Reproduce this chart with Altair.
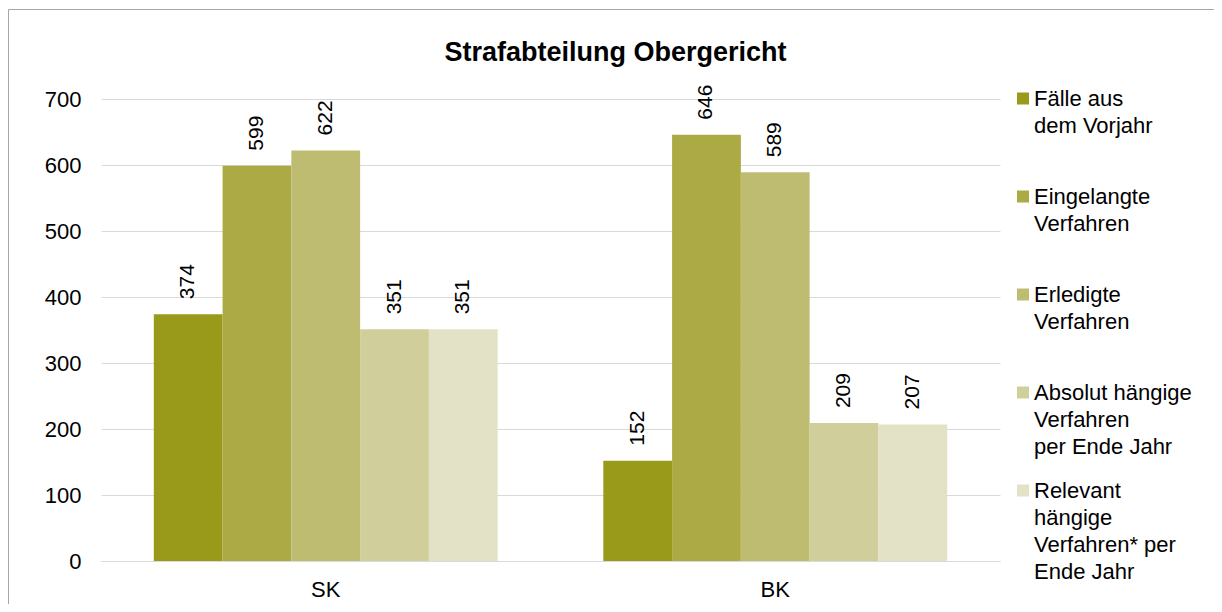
import altair as alt
import pandas as pd

groups = ["SK", "BK"]
series = [
    "Fälle aus|dem Vorjahr",
    "Eingelangte|Verfahren",
    "Erledigte|Verfahren",
    "Absolut hängige|Verfahren|per Ende Jahr",
    "Relevant|hängige|Verfahren* per|Ende Jahr",
]
sk_values = [374, 599, 622, 351, 351]
bk_values = [152, 646, 589, 209, 207]
colors = ["#999A1A", "#ABAA45", "#BEBC71", "#D0CE9A", "#E3E2C6"]

rows = []
for g, vals in zip(groups, [sk_values, bk_values]):
    for s, v in zip(series, vals):
        rows.append({"group": g, "series": s, "value": v})
df = pd.DataFrame(rows)

FONT = "Liberation Sans"
FS = 22

x = alt.X("group:N", sort=groups, title=None,
          scale=alt.Scale(paddingInner=0.235, paddingOuter=0.1175),
          axis=alt.Axis(labelAngle=0, labelFontSize=FS, labelPadding=18,
                        domainColor="#D9D9D9", ticks=False, labelColor="#000000"))
xo = alt.XOffset("series:N", sort=series)
y = alt.Y("value:Q", title=None,
          scale=alt.Scale(domain=[0, 700], nice=False),
          axis=alt.Axis(values=[0, 100, 200, 300, 400, 500, 600, 700],
                        labelFontSize=FS, labelPadding=20, ticks=False,
                        domain=False, gridColor="#D9D9D9", labelColor="#000000"))

label_expr = (
    "length(split(datum.label, '|')) < 3 "
    "? split(datum.label + '| ', '|') : split(datum.label, '|')"
)

bars = alt.Chart(df).mark_bar().encode(
    x=x, xOffset=xo, y=y,
    color=alt.Color("series:N", sort=series,
                    scale=alt.Scale(domain=series, range=colors),
                    legend=alt.Legend(
                        title=None, orient="none", legendX=911, legendY=-11.5,
                        labelExpr=label_expr,
                        labelFontSize=FS, labelLimit=300,
                        labelColor="#000000", labelOffset=0,
                        symbolType="square", symbolSize=144, symbolStrokeWidth=0,
                        gridAlign="each", rowPadding=22,
                    )),
)

labels = alt.Chart(df).mark_text(
    angle=270, align="left", baseline="middle", dx=15,
    fontSize=21, color="#000000", font=FONT,
).encode(x=x, xOffset=xo, y=y, text="value:Q")

border = alt.Chart(alt.Data(values=[{"a": 1}])).mark_rect(
    filled=False, stroke="#A6A6A6", strokeWidth=1
).encode(
    x=alt.value(-92.5), x2=alt.value(1130),
    y=alt.value(-89.5), y2=alt.value(540),
)

chart = alt.layer(bars, labels, border).properties(
    width=899, height=462,
    title=alt.TitleParams("Strafabteilung Obergericht", fontSize=27,
                          fontWeight="bold", font=FONT, anchor="middle",
                          dx=65, dy=58, offset=0, color="#000000"),
    autosize=alt.AutoSizeParams(type="none"),
    padding={"left": 93, "top": 91, "right": 214, "bottom": 43},
).configure(font=FONT, style={"guide-label": {"lineHeight": 27}}).configure_view(stroke=None)

chart.save("out.html", embed_options={"renderer": "svg", "actions": False})
